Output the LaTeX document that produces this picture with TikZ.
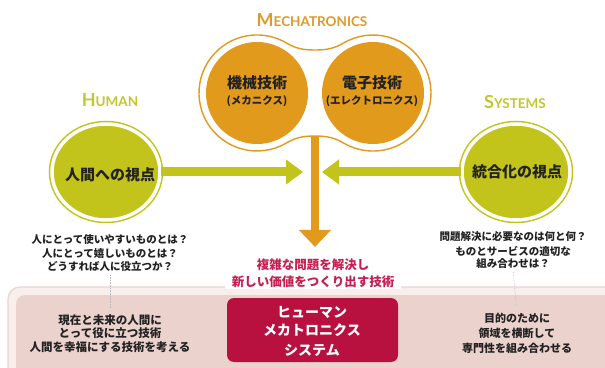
\documentclass[tikz,border=0pt]{standalone}
\usepackage{fontspec}
\newfontfamily\jp{Noto Sans CJK JP}
\newfontfamily\lat{Lato}
\usetikzlibrary{arrows.meta,shapes.geometric}
\definecolor{orng}{HTML}{E29A1C}
\definecolor{orngT}{HTML}{DC9A2E}
\definecolor{grn}{HTML}{C2C31B}
\definecolor{grnT}{HTML}{C4C62E}
\definecolor{mag}{HTML}{C81D50}
\definecolor{boxc}{HTML}{B8103F}
\definecolor{pinkfill}{HTML}{EBD2CC}
\definecolor{framefill}{HTML}{F8EFEC}
\definecolor{framec}{HTML}{E6D6D1}
\definecolor{ink}{HTML}{222222}
\begin{document}
\begin{tikzpicture}[x=1pt,y=1pt,
  jt/.style={font=\jp\bfseries, text=ink, inner sep=1pt},
  qtext/.style={jt, font=\jp\bfseries\fontsize{10.5}{12}\selectfont},
  btext/.style={jt, font=\jp\bfseries\fontsize{11.5}{13}\selectfont},
  ctext/.style={jt, font=\jp\bfseries\fontsize{15}{17}\selectfont},
  csub/.style={jt, font=\jp\bfseries\fontsize{10.5}{12}\selectfont},
  magtext/.style={jt, text=mag, font=\jp\bfseries\fontsize{12.5}{14}\selectfont},
  boxtext/.style={jt, text=white, font=\jp\bfseries\fontsize{14}{16}\selectfont},
  ttl/.style={inner sep=1pt, font=\lat\bfseries},
  odisc/.style={circle, fill=orng, minimum size=102pt, inner sep=0pt},
  gdisc/.style={ellipse, fill=grn, draw=grn, double=white, double distance=3.5pt, line width=1.5pt, minimum width=108pt, minimum height=96pt, inner sep=0pt},
  garrow/.style={draw=grn, line width=9pt, -{Triangle[length=17pt,width=24pt]}},
  oarrow/.style={draw=orng, line width=8pt, -{Triangle[length=17pt,width=31pt]}},
  guide/.style={draw=gray!55, line width=0.6pt, densely dotted}
]
\useasboundingbox (0,0) rectangle (605,367);
\clip (0,0) rectangle (605,367);
\fill[white] (0,0) rectangle (605,367);

% bottom band
\draw[draw=framec, fill=framefill, line width=1.2pt, rounded corners=12pt] (8,-20) rectangle (630,80);
\fill[pinkfill, rounded corners=9pt] (16,-20) rectangle (630,72);

% peanut outline
\draw[orng, line width=1.4pt, fill=white]
  (286,324.2) to[out=-30,in=180] (315,317) to[out=0,in=210] (344,324.2)
  arc[start angle=120,end angle=-120,radius=58]
  to[out=150,in=0] (315,231) to[out=180,in=30] (286,223.8)
  arc[start angle=-60,end angle=-300,radius=58] -- cycle;
\coordinate (neckB) at (315,231);
\coordinate (otip) at (315,120);

\node[odisc] (mechL) at (257,274) {};
\node[odisc] (mechR) at (373,274) {};
\node[ctext] (mL1) at (257,284) {機械技術};
\node[csub] (mL2) at (257,266) {(メカニクス)};
\node[ctext] (mR1) at (372,284) {電子技術};
\node[csub] (mR2) at (372,266) {(エレクトロニクス)};

% titles
\node[ttl, text=orngT] (tMech) at (312,347) {{\fontsize{18}{18}\selectfont M}{\fontsize{13.5}{14}\selectfont ECHATRONICS}};
\node[ttl, text=grnT] (tHum) at (110,267) {{\fontsize{18}{18}\selectfont H}{\fontsize{13.5}{14}\selectfont UMAN}};
\node[ttl, text=grnT] (tSys) at (515,265) {{\fontsize{18}{18}\selectfont S}{\fontsize{13.5}{14}\selectfont YSTEMS}};

% green circles
\node[gdisc] (hum) at (106,195) {};
\node[gdisc] (sys) at (516,195) {};
\node[ctext] (humT) at (110,192) {人間への視点};
\node[ctext] (sysT) at (517,195) {統合化の視点};

% arrows
\coordinate (tipL) at (303,195);
\coordinate (tipR) at (322,195);
\draw[garrow] (hum.east) -- (tipL);
\draw[garrow] (sys.west) -- (tipR);
\draw[oarrow] (neckB) -- (otip);

% questions
\node[qtext] (hq1) at (110,127) {人にとって使いやすいものとは？};
\node[qtext] (hq2) at (110,113) {人にとって嬉しいものとは？};
\node[qtext] (hq3) at (110,100) {どうすれば人に役立つか？};
\node[qtext] (sq1) at (513,130) {問題解決に必要なのは何と何？};
\node[qtext] (sq2) at (513,116) {ものとサービスの適切な};
\node[qtext] (sq3) at (513,103) {組み合わせは？};

% magenta text
\node[magtext] (g1) at (313,102) {複雑な問題を解決し};
\node[magtext, fill=white, inner xsep=7pt] (g2) at (313,85) {新しい価値をつくり出す技術};

% center box
\node[fill=boxc, rounded corners=7pt, minimum width=171pt, minimum height=64pt] (box) at (312.5,37) {};
\node[boxtext] (x1) at (312,55) {ヒューマン};
\node[boxtext] (x2) at (312,37) {メカトロニクス};
\node[boxtext] (x3) at (312,17) {システム};

% bottom texts
\node[btext] (hb1) at (110,47) {現在と未来の人間に};
\node[btext] (hb2) at (110,34) {とって役に立つ技術};
\node[btext] (hb3) at (110,20) {人間を幸福にする技術を考える};
\node[btext, font=\jp\bfseries\fontsize{11}{13}\selectfont] (sb1) at (517,49) {目的のために};
\node[btext, font=\jp\bfseries\fontsize{11}{13}\selectfont] (sb2) at (517,34) {領域を横断して};
\node[btext, font=\jp\bfseries\fontsize{11}{13}\selectfont] (sb3) at (517,19) {専門性を組み合わせる};

% guides
\draw[guide, shorten <=2pt, shorten >=6pt] (hq3.south) -- (hb1.north);
\draw[guide, shorten <=2pt, shorten >=6pt] (sq3.south) -- (sb1.north);
\end{tikzpicture}
\end{document}
